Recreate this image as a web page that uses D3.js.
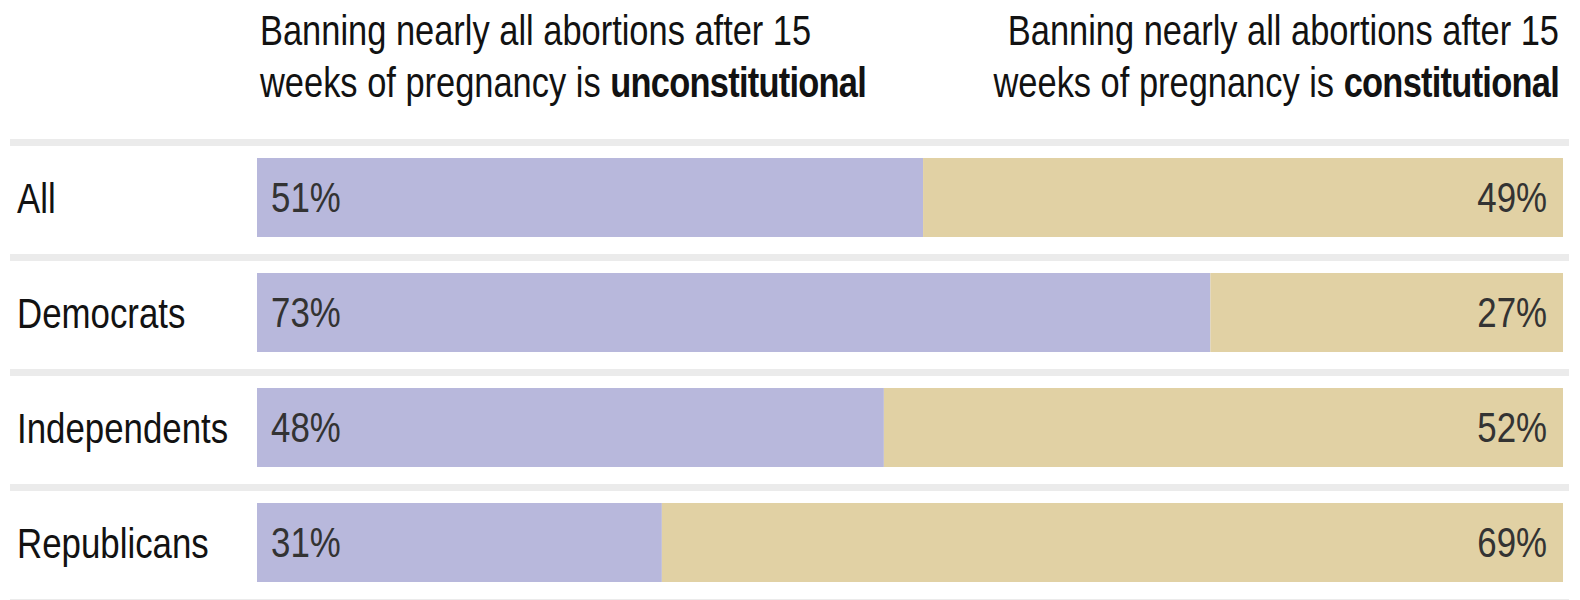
<!DOCTYPE html>
<html>
<head>
<meta charset="utf-8">
<script src="https://cdn.jsdelivr.net/npm/d3@7"></script>
<style>
  html, body { margin: 0; padding: 0; background: #ffffff; }
  svg { display: block; }
  text { font-family: "Liberation Sans", Arial, sans-serif; }
</style>
</head>
<body>
<svg id="chart" width="1580" height="600"></svg>
<script>
// ---- data ----
const categories = ["All", "Democrats", "Independents", "Republicans"];
const unconstitutional = [51, 73, 48, 31];
const constitutional = [49, 27, 52, 69];
const headerLeft = ["Banning nearly all abortions after 15", "weeks of pregnancy is ", "unconstitutional"];
const headerRight = ["Banning nearly all abortions after 15", "weeks of pregnancy is ", "constitutional"];

// ---- layout ----
const svg = d3.select("#chart");
const NARROW = 0.82; // condensed look (Arial Narrow ≈ Arial × 0.82)

const x = d3.scaleLinear().domain([0, 100]).range([257, 1563]);
const y = d3.scaleBand().domain(categories).range([139, 599]).padding(0);
const step = y.step();
const sepH = 7, barOff = 19, barH = 79;
const colors = { unc: "#b8b8dc", con: "#e1d1a4", sep: "#ebebeb" };

function narrow(parent, px, py) {
  return parent.append("g")
    .attr("transform", d => `translate(${typeof px === "function" ? px(d) : px},${py}) scale(${NARROW},1)`)
    .append("text").attr("x", 0).attr("y", 0);
}

// separators
const sepYs = categories.map(c => y(c)).concat([y(categories[categories.length - 1]) + step]);
svg.append("g").selectAll("rect").data(sepYs).join("rect")
  .attr("x", 10).attr("width", 1569 - 10)
  .attr("y", d => d).attr("height", sepH)
  .attr("fill", colors.sep);

const rows = categories.map((c, i) => ({ c, u: unconstitutional[i], k: constitutional[i] }));

const g = svg.append("g").selectAll("g").data(rows).join("g")
  .attr("transform", d => `translate(0,${y(d.c) + barOff})`);

g.append("rect")
  .attr("x", x(0)).attr("y", 0)
  .attr("width", d => x(d.u) - x(0)).attr("height", barH)
  .attr("fill", colors.unc);

g.append("rect")
  .attr("x", d => x(d.u)).attr("y", 0)
  .attr("width", d => x(100) - x(d.u)).attr("height", barH)
  .attr("fill", colors.con);

narrow(g, 17, barH / 2 + 15)
  .attr("font-size", 42.5).attr("fill", "#121212")
  .text(d => d.c);

narrow(g, x(0) + 14, barH / 2 + 14)
  .attr("font-size", 42.5).attr("fill", "#333333")
  .text(d => d.u + "%");

narrow(g, x(100) - 16, barH / 2 + 14)
  .attr("text-anchor", "end")
  .attr("font-size", 42.5).attr("fill", "#333333")
  .text(d => d.k + "%");

// headers
function header(lines, xPos, anchor) {
  narrow(svg, xPos, 45).attr("text-anchor", anchor)
    .attr("font-size", 42).attr("fill", "#121212").text(lines[0]);
  const l2 = narrow(svg, xPos, 97).attr("text-anchor", anchor)
    .attr("font-size", 42).attr("fill", "#121212");
  l2.append("tspan").text(lines[1]);
  l2.append("tspan").attr("font-weight", "bold").attr("letter-spacing", -0.9).text(lines[2]);
}
header(headerLeft, 260, "start");
header(headerRight, 1559, "end");
</script>
</body>
</html>
